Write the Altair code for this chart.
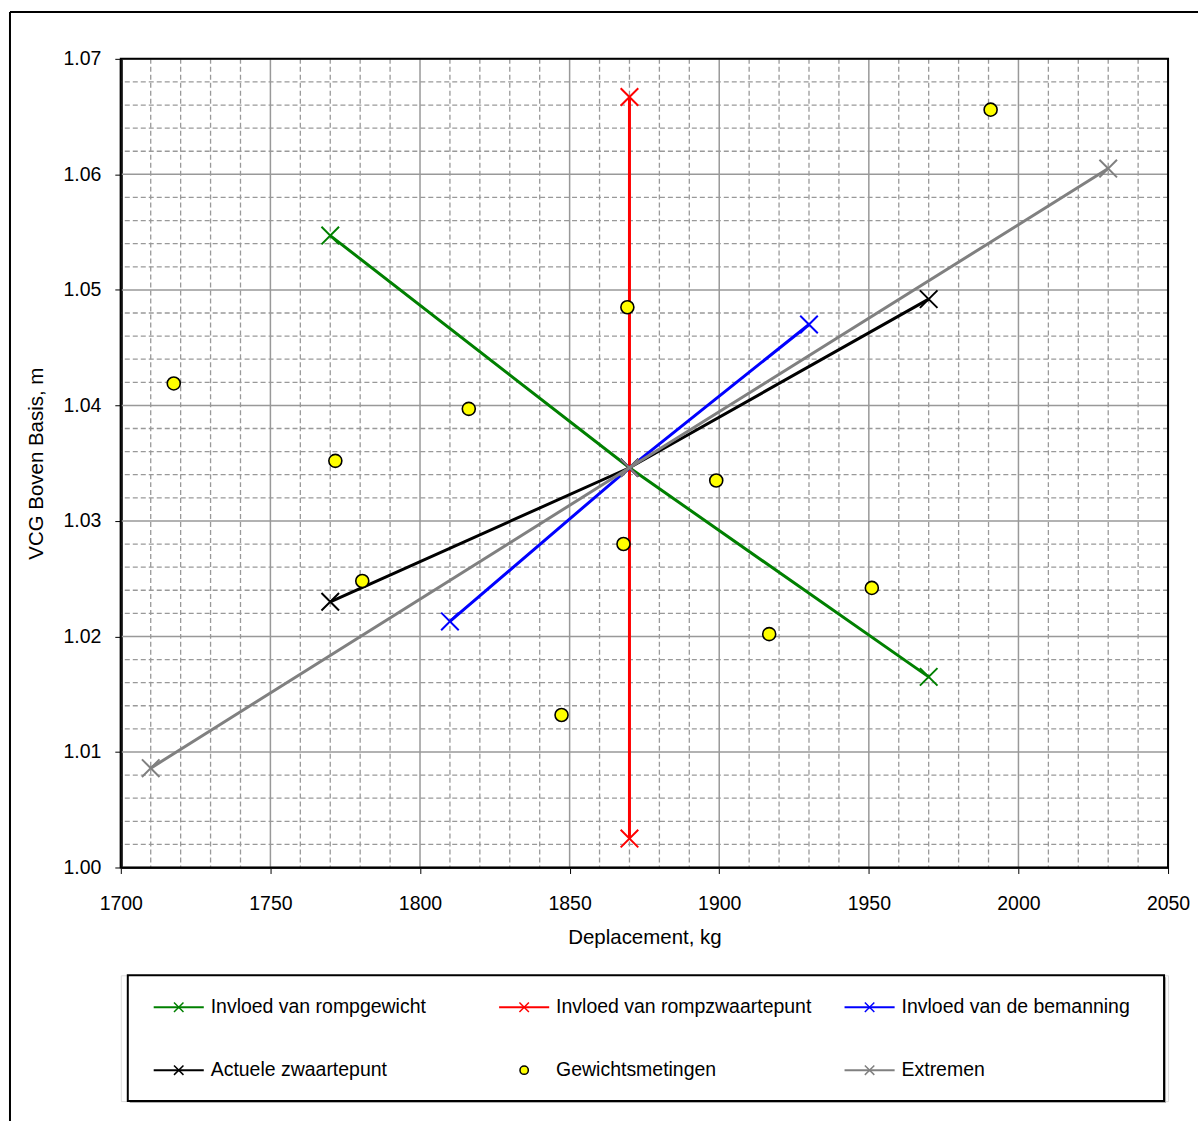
import altair as alt
import pandas as pd

# ---------------- data ----------------
x_ticks = [1700, 1750, 1800, 1850, 1900, 1950, 2000, 2050]
y_ticks = [1.00, 1.01, 1.02, 1.03, 1.04, 1.05, 1.06, 1.07]
x_minor = [v for v in range(1700, 2051, 10) if v % 50 != 0]
y_minor = [round(1.0 + i * 0.002, 3) for i in range(36) if i % 5 != 0]

series_names = ["Invloed van rompgewicht", "Invloed van rompzwaartepunt",
                "Invloed van de bemanning", "Actuele zwaartepunt",
                "Gewichtsmetingen", "Extremen"]
series_colors = ["#008000", "#ff0000", "#0000ff", "#000000", "#ffff00", "#808080"]

romp_x = [1770, 1870, 1970]
romp_y = [1.0547, 1.0346, 1.0165]
zwp_x = [1870, 1870, 1870]
zwp_y = [1.0025, 1.0346, 1.0667]
bem_x = [1810, 1870, 1930]
bem_y = [1.0213, 1.0346, 1.0470]
act_x = [1770, 1870, 1970]
act_y = [1.0230, 1.0346, 1.0492]
ext_x = [1710, 1870, 2030]
ext_y = [1.0086, 1.0346, 1.0605]
meet_x = [1717.7, 1771.7, 1780.7, 1816.3, 1869.3, 1868.0, 1847.3, 1899.0, 1916.7, 1951.0, 1990.7]
meet_y = [1.0419, 1.0352, 1.0248, 1.0397, 1.0485, 1.0280, 1.0132, 1.0335, 1.0202, 1.0242, 1.0656]

FONT = "Liberation Sans"
XPATH = "M-1,-1L1,1M-1,1L1,-1"
W, H = 1049, 810
GRID = "#999999"

xscale = alt.Scale(domain=[1700, 2050], nice=False, zero=False)
yscale = alt.Scale(domain=[1.0, 1.07], nice=False, zero=False)
xaxis = alt.Axis(values=x_ticks, format="d", grid=False, title="Deplacement, kg",
                 labelFontSize=19.5, titleFontSize=20.5, tickSize=6, labelPadding=21,
                 titlePadding=15, domainColor="black", domainWidth=2,
                 tickColor="black", tickWidth=1, labelColor="black",
                 titleColor="black", titleFontWeight="normal", labelFlush=False)
yaxis = alt.Axis(values=y_ticks, format=".2f", grid=False, title="VCG Boven Basis, m",
                 labelFontSize=19.5, titleFontSize=20.5, tickSize=6, labelPadding=14,
                 titlePadding=16, domainColor="black", domainWidth=3,
                 tickColor="black", tickWidth=1, labelColor="black",
                 titleColor="black", titleFontWeight="normal", labelFlush=False)


def X(f):
    return alt.X(f, type="quantitative", scale=xscale, axis=xaxis)


def Y(f):
    return alt.Y(f, type="quantitative", scale=yscale, axis=yaxis)


layers = []
layers.append(alt.Chart(pd.DataFrame({"x": x_minor})).mark_rule(
    color=GRID, strokeWidth=1.3, strokeDash=[5, 3]).encode(x=X("x")))
layers.append(alt.Chart(pd.DataFrame({"y": y_minor})).mark_rule(
    color=GRID, strokeWidth=1.3, strokeDash=[5, 3]).encode(y=Y("y")))
layers.append(alt.Chart(pd.DataFrame({"x": x_ticks})).mark_rule(
    color=GRID, strokeWidth=1.5).encode(x=X("x")))
layers.append(alt.Chart(pd.DataFrame({"y": y_ticks})).mark_rule(
    color=GRID, strokeWidth=1.5).encode(y=Y("y")))

line_series = [(0, romp_x, romp_y), (1, zwp_x, zwp_y), (2, bem_x, bem_y),
               (3, act_x, act_y), (5, ext_x, ext_y)]
for idx, xs, ys in line_series:
    df = pd.DataFrame({"x": xs, "y": ys, "i": list(range(len(xs)))})
    col = series_colors[idx]
    layers.append(alt.Chart(df).mark_line(color=col, strokeWidth=3).encode(
        x=X("x"), y=Y("y"), order="i:O"))
    layers.append(alt.Chart(df).mark_point(shape=XPATH, filled=False, color=col,
                                           size=310, strokeWidth=2, opacity=1).encode(
        x=X("x"), y=Y("y")))

meet_df = pd.DataFrame({"x": meet_x, "y": meet_y})
layers.append(alt.Chart(meet_df).mark_point(shape="circle", filled=True, fill="#ffff00",
                                            stroke="black", strokeWidth=1.6, size=170,
                                            opacity=1).encode(x=X("x"), y=Y("y")))

one = pd.DataFrame({"a": [0]})
# plot-area border (top / right)
layers.append(alt.Chart(one).mark_rect(fillOpacity=0, stroke="black", strokeWidth=2).encode(
    x=alt.value(0), x2=alt.value(W), y=alt.value(0), y2=alt.value(H)))
# outer chart frame (left / top, the rest lies outside the picture)
layers.append(alt.Chart(one).mark_rule(color="black", strokeWidth=2).encode(
    x=alt.value(-111), x2=alt.value(1079), y=alt.value(-47)))
layers.append(alt.Chart(one).mark_rule(color="black", strokeWidth=2).encode(
    x=alt.value(-111), y=alt.value(-47), y2=alt.value(1064)))

main = alt.layer(*layers).properties(width=W, height=H)

# ---------------- legend ----------------
leg_cols = [0, 1, 2, 0, 1, 2]
leg_rows = [0, 0, 0, 1, 1, 1]
leg = pd.DataFrame({"series": series_names, "col": leg_cols, "row": leg_rows})
leg["x1"] = leg["col"] + 0.075
leg["x2"] = leg["col"] + 0.22
leg["xm"] = leg["col"] + 0.1475
leg["xt"] = leg["col"] + 0.24
leg_lines = leg[leg["series"] != "Gewichtsmetingen"]
leg_pts = leg[leg["series"] == "Gewichtsmetingen"]

lx = alt.Scale(domain=[0, 3], range=[7, 1045])
ly = alt.Scale(domain=[0, 1], range=[32, 95])
cscale = alt.Scale(domain=series_names, range=series_colors)

shadow = alt.Chart(one).mark_rect(fill="#b0b0b0").encode(
    x=alt.value(9), x2=alt.value(1047), y=alt.value(2), y2=alt.value(128))
box = alt.Chart(one).mark_rect(fill="white", stroke="black", strokeWidth=2).encode(
    x=alt.value(7), x2=alt.value(1045), y=alt.value(0), y2=alt.value(126))
l_rules = alt.Chart(leg_lines).mark_rule(strokeWidth=2).encode(
    x=alt.X("x1:Q", scale=lx, axis=None), x2="x2:Q",
    y=alt.Y("row:Q", scale=ly, axis=None),
    color=alt.Color("series:N", scale=cscale, legend=None))
l_marks = alt.Chart(leg_lines).mark_point(shape=XPATH, filled=False, size=90,
                                          strokeWidth=1.5, opacity=1).encode(
    x=alt.X("xm:Q", scale=lx, axis=None), y=alt.Y("row:Q", scale=ly, axis=None),
    color=alt.Color("series:N", scale=cscale, legend=None))
l_pts = alt.Chart(leg_pts).mark_point(shape="circle", filled=True, fill="#ffff00",
                                      stroke="black", strokeWidth=1.5, size=70,
                                      opacity=1).encode(
    x=alt.X("xm:Q", scale=lx, axis=None), y=alt.Y("row:Q", scale=ly, axis=None))
l_text = alt.Chart(leg).mark_text(align="left", baseline="middle", fontSize=19.5,
                                  font=FONT, color="black").encode(
    x=alt.X("xt:Q", scale=lx, axis=None), y=alt.Y("row:Q", scale=ly, axis=None),
    text="series:N")

legend = alt.layer(shadow, box, l_rules, l_marks, l_pts, l_text).properties(width=W, height=126)

chart = alt.vconcat(main, legend, spacing=108, bounds="flush").resolve_scale(
    x="independent", y="independent", color="independent"
).properties(
    padding={"left": 8, "top": 9, "right": 0, "bottom": 0}
).configure_view(stroke=None).configure(font=FONT, background="white")

chart.save("out.html", embed_options={"renderer": "svg", "actions": False})
